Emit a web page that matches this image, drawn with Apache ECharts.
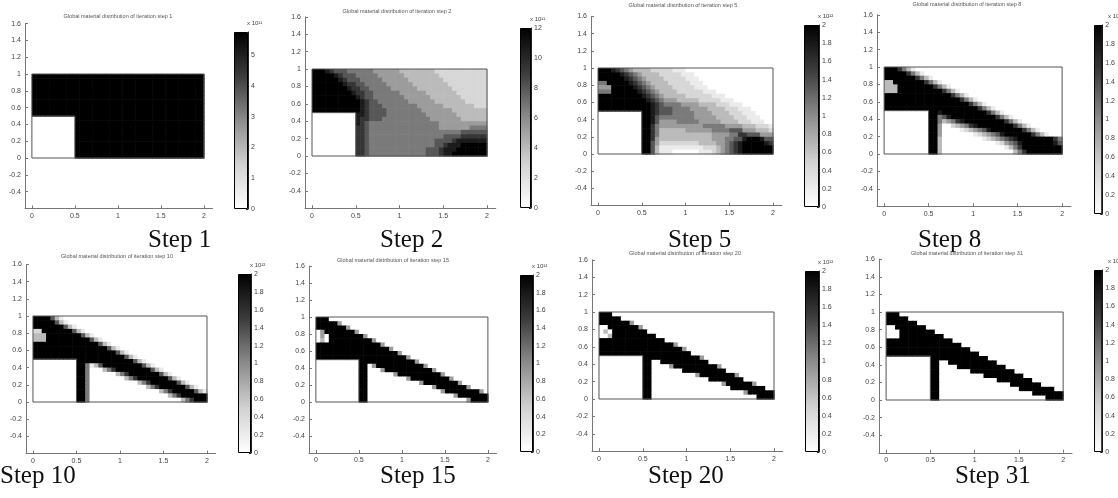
<!DOCTYPE html>
<html><head><meta charset="utf-8">
<script src="https://cdn.jsdelivr.net/npm/echarts@6/dist/echarts.min.js"></script>
<style>html,body{margin:0;padding:0;background:#fff}#c{width:1118px;height:498px}</style>
</head><body><div id="c"></div>
<script>
// ---------------- DATA ----------------
const iterations = [1, 2, 5, 8, 10, 15, 20, 31];
const stepLabels = ['Step 1', 'Step 2', 'Step 5', 'Step 8', 'Step 10', 'Step 15', 'Step 20', 'Step 31'];
const colorbarMax = [5.75, 12, 2, 2, 2, 2, 2, 2];
const colorbarInterval = [1, 2, 0.2, 0.2, 0.2, 0.2, 0.2, 0.2];
const colorbarExponent = ['x 10¹¹', 'x 10¹¹', 'x 10¹²', 'x 10¹²', 'x 10¹²', 'x 10¹²', 'x 10¹²', 'x 10¹²'];
const xTickValues = [0, 0.5, 1, 1.5, 2];
const domainOutline = [[0, 0], [2, 0], [2, 1], [0, 1], [0, 0]];
const holeOutline = [[0, 0.5], [0.5, 0.5], [0.5, 0]];
// density levels 0..9 (fraction of colorbar max), rows top (y=1) to bottom (y=0), 40 columns across x=0..2; '.' = no material cell (hole)
const densityStep1 = [
"9999999999 9999999999 9999999999 9999999999",
"9999999999 9999999999 9999999999 9999999999",
"9999999999 9999999999 9999999999 9999999999",
"9999999999 9999999999 9999999999 9999999999",
"9999999999 9999999999 9999999999 9999999999",
"9999999999 9999999999 9999999999 9999999999",
"9999999999 9999999999 9999999999 9999999999",
"9999999999 9999999999 9999999999 9999999999",
"9999999999 9999999999 9999999999 9999999999",
"9999999999 9999999999 9999999999 9999999999",
".......... 9999999999 9999999999 9999999999",
".......... 9999999999 9999999999 9999999999",
".......... 9999999999 9999999999 9999999999",
".......... 9999999999 9999999999 9999999999",
".......... 9999999999 9999999999 9999999999",
".......... 9999999999 9999999999 9999999999",
".......... 9999999999 9999999999 9999999999",
".......... 9999999999 9999999999 9999999999",
".......... 9999999999 9999999999 9999999999",
".......... 9999999999 9999999999 9999999999"];
const densityStep2 = [
"9998766655 5555444444 3333333322 2222222222",
"9999987666 5555544444 4333333332 2222222222",
"9999998766 6555554444 4433333333 2222222222",
"9999999877 6655555444 4443333333 3222222222",
"9999999987 7665555544 4444333333 3322222222",
"9999999998 7766555555 4444443333 3332222222",
"9999999999 8766555555 5444444333 3333222222",
"9999999999 9876655555 5544444433 3333322222",
"9999999999 9876665555 5555444444 3333333222",
"9999999999 9876666555 5555544444 4433333333",
".......... 8876666555 5555554444 4443333333",
".......... 8776665555 5555555444 4444333333",
".......... 8765555555 5555555554 4444444444",
".......... 7765555555 5555555554 4444445555",
".......... 7765555555 5555555555 5555666666",
".......... 7765555555 5555555555 6666777777",
".......... 7765555555 5555555566 6678888888",
".......... 7765555555 5555555566 7888999999",
".......... 7765555555 5555556667 8889999999",
".......... 7765555555 5555556667 8899999999"];
const densityStep5 = [
"9998765433 3322222111 0000000000 0000000000",
"9999987654 3333222221 1100000000 0000000000",
"9999998765 4333322222 1110000000 0000000000",
"5599999876 5433332222 2111000000 0000000000",
"4449999987 6543333222 2211100000 0000000000",
"5559999998 7654333322 2222111000 0000000000",
"9999999999 8765433333 2222221110 0000000000",
"9999999999 9876544433 3332222211 1000000000",
"9999999999 9987655554 4443333222 1110000000",
"9999999999 9987666555 5444433332 2211100000",
".......... 9987666555 5544443333 2221110000",
".......... 9986555555 5544444333 3222111000",
".......... 9986444455 5554444433 3322211100",
".......... 9975444444 4444555554 4443332221",
".......... 9975333333 4444445555 6664443332",
".......... 9975333333 3333334444 5577666444",
".......... 9974333333 3333334445 5668999866",
".......... 9964222222 2223333445 6789999987",
".......... 9963111111 1111222345 6789999999",
".......... 9963111000 0001112345 6789999999"];
const densityStep8 = [
"9997531000 0000000000 0000000000 0000000000",
"9999975310 0000000000 0000000000 0000000000",
"9999999753 1000000000 0000000000 0000000000",
"3399999997 5310000000 0000000000 0000000000",
"3339999999 9753100000 0000000000 0000000000",
"3339999999 9997531000 0000000000 0000000000",
"9999999999 9999975310 0000000000 0000000000",
"9999999999 9999999753 1000000000 0000000000",
"9999999999 9999999997 5310000000 0000000000",
"9999999999 9999999999 9753100000 0000000000",
".......... 9989999999 9997531000 0000000000",
".......... 9956899999 9999975310 0000000000",
".......... 9953457899 9999999753 1000000000",
".......... 9940023457 8999999997 5310000000",
".......... 9940000123 4568999999 9753100000",
".......... 9940000000 1234568999 9997531000",
".......... 9930000000 0012345678 9999999975",
".......... 9930000000 0000012456 8999999986",
".......... 9930000000 0000000135 7999999999",
".......... 9930000000 0000000003 5799999999"];
const densityStep10 = [
"9999631000 0000000000 0000000000 0000000000",
"9999963100 0000000000 0000000000 0000000000",
"9999999631 0000000000 0000000000 0000000000",
"2299999996 3100000000 0000000000 0000000000",
"3339999999 9631000000 0000000000 0000000000",
"3339999999 9996310000 0000000000 0000000000",
"9999999999 9999963100 0000000000 0000000000",
"9999999999 9999999631 0000000000 0000000000",
"9999999999 9999999996 3100000000 0000000000",
"9999999999 9999999999 9631000000 0000000000",
".......... 9999999999 9996310000 0000000000",
".......... 9951369999 9999963100 0000000000",
".......... 9950003579 9999999631 0000000000",
".......... 9950000003 5799999996 3100000000",
".......... 9950000000 0357999999 9631000000",
".......... 9950000000 0000357999 9996310000",
".......... 9950000000 0000003579 9999963100",
".......... 9950000000 0000000003 5799999631",
".......... 9950000000 0000000000 0357999999",
".......... 9950000000 0000000000 0000357999"];
const densityStep15 = [
"9990000000 0000000000 0000000000 0000000000",
"9999940000 0000000000 0000000000 0000000000",
"9999999400 0000000000 0000000000 0000000000",
"0499999994 0000000000 0000000000 0000000000",
"0409999999 9400000000 0000000000 0000000000",
"0309999999 9994000000 0000000000 0000000000",
"9999999999 9999940000 0000000000 0000000000",
"9999999999 9999999400 0000000000 0000000000",
"9999999999 9999999994 0000000000 0000000000",
"9999999999 9999999999 9400000000 0000000000",
".......... 9999999999 9994000000 0000000000",
".......... 9904999999 9999940000 0000000000",
".......... 9900049999 9999999400 0000000000",
".......... 9900000049 9999999994 0000000000",
".......... 9900000000 0499999999 9400000000",
".......... 9900000000 0000499999 9994000000",
".......... 9900000000 0000000499 9999940000",
".......... 9900000000 0000000004 9999999940",
".......... 9900000000 0000000000 0049999999",
".......... 9900000000 0000000000 0000049999"];
const densityStep20 = [
"9990000000 0000000000 0000000000 0000000000",
"9999900000 0000000000 0000000000 0000000000",
"9999999400 0000000000 0000000000 0000000000",
"0099999994 0000000000 0000000000 0000000000",
"0309999999 9000000000 0000000000 0000000000",
"0039999999 9990000000 0000000000 0000000000",
"9999999999 9999900000 0000000000 0000000000",
"9999999999 9999999400 0000000000 0000000000",
"9999999999 9999999994 0000000000 0000000000",
"9999999999 9999999999 9000000000 0000000000",
".......... 9999999999 9994000000 0000000000",
".......... 9900999999 9999900000 0000000000",
".......... 9900004999 9999999400 0000000000",
".......... 9900000009 9999999990 0000000000",
".......... 9900000000 0049999999 9400000000",
".......... 9900000000 0000099999 9990000000",
".......... 9900000000 0000000049 9999940000",
".......... 9900000000 0000000000 9999999900",
".......... 9900000000 0000000000 0004999999",
".......... 9900000000 0000000000 0000009999"];
const densityStep31 = [
"9990000000 0000000000 0000000000 0000000000",
"9999900000 0000000000 0000000000 0000000000",
"9999999000 0000000000 0000000000 0000000000",
"0099999990 0000000000 0000000000 0000000000",
"0009999999 9000000000 0000000000 0000000000",
"0009999999 9990000000 0000000000 0000000000",
"9999999999 9999900000 0000000000 0000000000",
"9999999999 9999999000 0000000000 0000000000",
"9999999999 9999999990 0000000000 0000000000",
"9999999999 9999999999 9000000000 0000000000",
".......... 9999999999 9990000000 0000000000",
".......... 9900999999 9999900000 0000000000",
".......... 9900009999 9999999000 0000000000",
".......... 9900000009 9999999990 0000000000",
".......... 9900000000 0099999999 9000000000",
".......... 9900000000 0000099999 9990000000",
".......... 9900000000 0000000099 9999900000",
".......... 9900000000 0000000000 9999999900",
".......... 9900000000 0000000000 0009999999",
".......... 9900000000 0000000000 0000009999"];
const densityFields = [densityStep1, densityStep2, densityStep5, densityStep8, densityStep10, densityStep15, densityStep20, densityStep31];

// ---------------- LAYOUT (pixels) ----------------
const layout = [
  {plot: [25, 23.6, 187.5, 184.8], bar: [234, 32, 14, 177], title: [118, 13], label: [148, 228]},
  {plot: [305, 16.8, 190.75, 191.4], bar: [520, 28, 11, 180], title: [397, 8], label: [380, 228]},
  {plot: [591, 16.4, 190.75, 189.2], bar: [804, 25, 15, 182], title: [683, 2], label: [668, 228]},
  {plot: [877, 14.8, 194, 191.4], bar: [1094, 25, 15, 189], title: [967, 1], label: [918, 228]},
  {plot: [26, 264.4, 189.7, 189.2], bar: [238, 274, 13, 179], title: [117, 253], label: [0, 464]},
  {plot: [309, 266, 187.5, 187], bar: [520, 275, 13, 177], title: [393, 257], label: [380, 464]},
  {plot: [592, 259.8, 190.75, 191.4], bar: [805, 271, 14, 181], title: [685, 250], label: [648, 464]},
  {plot: [879, 259.2, 193, 193.6], bar: [1094, 270, 15, 182], title: [967, 250], label: [955, 464]}
];

const CELL = 0.05;
const GRAY_STOPS = ['#ffffff', '#d2d2d2', '#8c8c8c', '#3c3c3c', '#000000'];

function toCells(rows, max) {
  const out = [];
  rows.forEach(function (row, r) {
    const s = row.replace(/ /g, '');
    if (s.length !== 40) console.error('bad row length', r, s.length);
    for (let c = 0; c < s.length; c++) {
      const ch = s[c];
      if (ch === '.') continue;
      out.push([CELL * c + CELL / 2, 1 - CELL * r - CELL / 2, Number(ch) / 9 * max]);
    }
  });
  return out;
}

const chart = echarts.init(document.getElementById('c'), null, {renderer: 'canvas'});
const grids = [], xAxes = [], yAxes = [], series = [], visualMaps = [], titles = [];
const labelFont = 'Liberation Sans';

layout.forEach(function (L, i) {
  grids.push({left: L.plot[0], top: L.plot[1], width: L.plot[2], height: L.plot[3], containLabel: false});
  xAxes.push({
    type: 'value', gridIndex: i, min: -0.08, max: 2.1,
    axisLine: {show: true, onZero: false, lineStyle: {color: '#777', width: 1}},
    axisTick: {show: true, inside: true, length: 3, customValues: xTickValues, lineStyle: {color: '#777'}},
    axisLabel: {customValues: xTickValues, fontSize: 7, color: '#444', margin: 4, fontFamily: labelFont},
    splitLine: {show: false}
  });
  yAxes.push({
    type: 'value', gridIndex: i, min: -0.6, max: 1.6, interval: 0.2,
    axisLine: {show: true, onZero: false, lineStyle: {color: '#777', width: 1}},
    axisTick: {show: true, inside: true, length: 3, lineStyle: {color: '#777'}},
    axisLabel: {fontSize: 7, color: '#444', margin: 4, showMinLabel: false, fontFamily: labelFont},
    splitLine: {show: false}
  });
});
layout.forEach(function (L, i) {
  grids.push({left: L.bar[0], top: L.bar[1], width: L.bar[2], height: L.bar[3]});
  xAxes.push({type: 'category', gridIndex: 8 + i, data: [''], show: false});
  yAxes.push({
    type: 'value', gridIndex: 8 + i, position: 'right', min: 0, max: colorbarMax[i], interval: colorbarInterval[i],
    axisLine: {show: true, lineStyle: {color: '#222', width: 1}},
    axisTick: {show: true, inside: true, length: 2, lineStyle: {color: '#222'}},
    axisLabel: {fontSize: 7, color: '#444', margin: 3, showMaxLabel: i !== 0, fontFamily: labelFont},
    splitLine: {show: false}
  });
});

layout.forEach(function (L, i) {
  const cellIdx = series.length;
  series.push({
    type: 'custom', xAxisIndex: i, yAxisIndex: i, silent: true,
    data: toCells(densityFields[i], colorbarMax[i]),
    encode: {x: 0, y: 1},
    renderItem: function (params, api) {
      const x = api.value(0), y = api.value(1);
      const p = api.coord([x - CELL / 2, y + CELL / 2]);
      const s = api.size([CELL, CELL]);
      return {type: 'rect', shape: {x: p[0], y: p[1], width: s[0] + 0.6, height: s[1] + 0.6},
        style: {fill: api.visual('color')}};
    },
    z: 2
  });
  visualMaps.push({
    type: 'continuous', show: false, min: 0, max: colorbarMax[i], dimension: 2,
    seriesIndex: cellIdx, inRange: {color: GRAY_STOPS}
  });
  series.push({type: 'line', xAxisIndex: i, yAxisIndex: i, data: domainOutline, symbol: 'none', silent: true,
    lineStyle: {color: '#555', width: 1}, z: 3, animation: false});
  series.push({type: 'line', xAxisIndex: i, yAxisIndex: i, data: holeOutline, symbol: 'none', silent: true,
    lineStyle: {color: '#555', width: 1}, z: 3, animation: false});
  series.push({
    type: 'bar', xAxisIndex: 8 + i, yAxisIndex: 8 + i, data: [colorbarMax[i]], barWidth: '100%', silent: true,
    itemStyle: {
      color: new echarts.graphic.LinearGradient(0, 0, 0, 1, GRAY_STOPS.slice().reverse().map(function (c, k, a) {
        return {offset: k / (a.length - 1), color: c};
      })),
      borderColor: '#000', borderWidth: 1
    }
  });

  titles.push({
    text: 'Global material distribution of iteration step ' + iterations[i],
    left: L.title[0], top: L.title[1], textAlign: 'center', padding: 0,
    textStyle: {fontSize: 5.5, fontWeight: 'normal', color: '#555', fontFamily: labelFont}
  });
  titles.push({
    text: stepLabels[i], left: L.label[0], top: L.label[1], padding: 0,
    textStyle: {fontSize: 25, fontWeight: 'normal', color: '#111', fontFamily: 'Liberation Serif'}
  });
  titles.push({
    text: colorbarExponent[i], left: L.bar[0] + L.bar[2] - 1, top: L.bar[1] - 12, padding: 0,
    textStyle: {fontSize: 6, fontWeight: 'normal', color: '#444', fontFamily: labelFont}
  });
});

chart.setOption({
  animation: false,
  backgroundColor: '#ffffff',
  title: titles,
  grid: grids,
  xAxis: xAxes,
  yAxis: yAxes,
  visualMap: visualMaps,
  series: series
});
</script>
</body></html>
